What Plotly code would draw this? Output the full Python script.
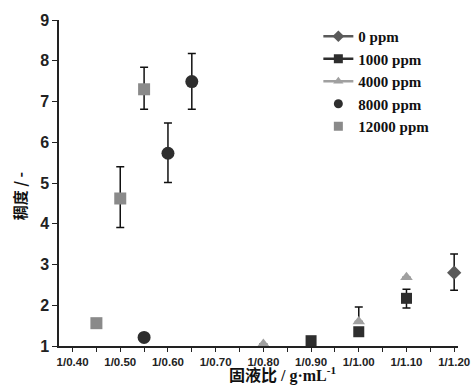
import plotly.graph_objects as go

series_names = ["0 ppm", "1000 ppm", "4000 ppm", "8000 ppm", "12000 ppm"]
x_0 = [1.20]
y_0 = [2.80]
e_0_plus = [0.46]
e_0_minus = [0.43]

x_1000 = [0.90, 1.00, 1.10]
y_1000 = [1.13, 1.35, 2.17]
e_1000_plus = [0.0, 0.0, 0.22]
e_1000_minus = [0.0, 0.0, 0.24]

x_4000 = [0.80, 1.00, 1.10]
y_4000 = [1.05, 1.60, 2.69]
e_4000_plus = [0.0, 0.36, 0.0]
e_4000_minus = [0.0, 0.0, 0.0]

x_8000 = [0.55, 0.60, 0.65]
y_8000 = [1.21, 5.73, 7.49]
e_8000_plus = [0.0, 0.74, 0.69]
e_8000_minus = [0.0, 0.72, 0.68]

x_12000 = [0.45, 0.50, 0.55]
y_12000 = [1.56, 4.62, 7.30]
e_12000_plus = [0.0, 0.78, 0.54]
e_12000_minus = [0.0, 0.71, 0.49]

tick_vals = [0.40, 0.50, 0.60, 0.70, 0.80, 0.90, 1.00, 1.10, 1.20]
tick_text = ["1/0.40", "1/0.50", "1/0.60", "1/0.70", "1/0.80", "1/0.90", "1/1.00", "1/1.10", "1/1.20"]
y_ticks = [1, 2, 3, 4, 5, 6, 7, 8, 9]
x_title = "固液比 / g·mL<sup>-1</sup>"
y_title = "稠度 / -"

styles = [
    dict(symbol="diamond", color="#5a5a5a", size=11, line=True),
    dict(symbol="square", color="#2e2e2e", size=11, line=True),
    dict(symbol="triangle-up", color="#a0a0a0", size=11, line=True),
    dict(symbol="circle", color="#2e2e2e", size=13, line=False),
    dict(symbol="square", color="#8a8a8a", size=12, line=False),
]
data = [
    (x_0, y_0, e_0_plus, e_0_minus),
    (x_1000, y_1000, e_1000_plus, e_1000_minus),
    (x_4000, y_4000, e_4000_plus, e_4000_minus),
    (x_8000, y_8000, e_8000_plus, e_8000_minus),
    (x_12000, y_12000, e_12000_plus, e_12000_minus),
]

fig = go.Figure()
for name, st, (xs, ys, ep, em) in zip(series_names, styles, data):
    fig.add_trace(go.Scatter(
        x=xs, y=ys, mode="markers", name=name, showlegend=False,
        marker=dict(symbol=st["symbol"], color=st["color"], size=st["size"]),
        error_y=dict(type="data", symmetric=False, array=ep, arrayminus=em,
                     color="#111111", thickness=1.5, width=4),
        cliponaxis=False,
    ))
for name, st in zip(series_names, styles):
    fig.add_trace(go.Scatter(
        x=[None], y=[None], name=name,
        mode="lines+markers" if st["line"] else "markers",
        marker=dict(symbol=st["symbol"], color=st["color"], size=9),
        line=dict(color=st["color"], width=2.5),
    ))

fig.update_layout(
    width=476, height=388,
    margin=dict(l=59, r=6, t=20, b=42),
    paper_bgcolor="white", plot_bgcolor="white",
    showlegend=True,
    legend=dict(x=0.65, y=1.0, xanchor="left", yanchor="top",
                font=dict(family="Liberation Serif", size=15, color="#111111", weight="bold"),
                bgcolor="rgba(0,0,0,0)", itemwidth=30, tracegroupgap=0),
    xaxis=dict(
        range=[0.3716, 1.208], tickmode="array", tickvals=tick_vals, ticktext=tick_text,
        showgrid=False, zeroline=False, showline=True, linecolor="#222222", linewidth=1.5,
        ticks="outside", ticklen=4, tickcolor="#222222", ticklabeloverflow="allow",
        minor=dict(dtick=0.05, tick0=0.40, ticks="outside", ticklen=4, tickcolor="#222222"),
        tickfont=dict(family="Liberation Sans", size=11.5, color="#222222", weight="bold"),
    ),
    yaxis=dict(
        range=[1, 9], tickvals=y_ticks,
        showgrid=False, zeroline=False, showline=True, linecolor="#222222", linewidth=1.5,
        ticks="outside", ticklen=5, tickcolor="#222222",
        tickfont=dict(family="Liberation Sans", size=16, color="#222222", weight="bold"),
    ),
    annotations=[
        dict(text=x_title, xref="paper", yref="paper", x=0.562, y=-0.127,
             xanchor="center", yanchor="bottom", showarrow=False,
             font=dict(family="Liberation Serif, Noto Sans CJK SC", size=16,
                       color="#111111", weight="bold")),
        dict(text=y_title, xref="paper", yref="paper", x=-0.1, y=0.46,
             xanchor="center", yanchor="middle", showarrow=False, textangle=-90,
             font=dict(family="Noto Sans CJK SC", size=15, color="#111111", weight="bold")),
    ],
)
fig.write_html("out.html")
